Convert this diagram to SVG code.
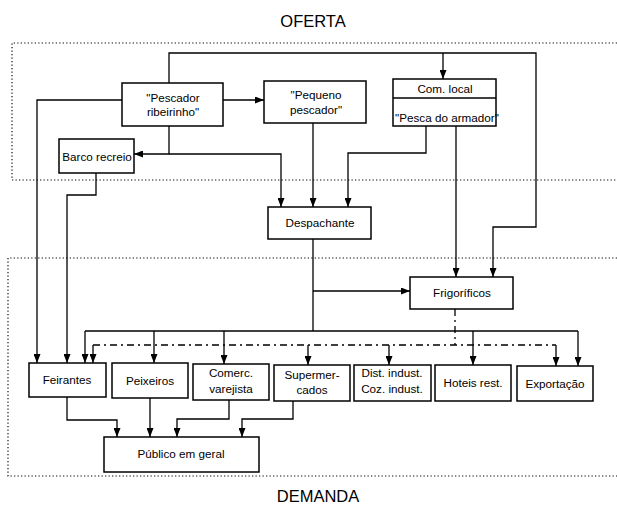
<svg xmlns="http://www.w3.org/2000/svg" width="617" height="505" viewBox="0 0 617 505">
<style>
.box{fill:#fff;stroke:#000;stroke-width:1.5}
.t{font-family:"Liberation Sans",Arial,sans-serif;font-size:11.7px;fill:#000;text-anchor:middle}
.title{font-family:"Liberation Sans",Arial,sans-serif;font-size:16.5px;fill:#000;text-anchor:middle}
.c{fill:none;stroke:#000;stroke-width:1.3}
.a{marker-end:url(#arr)}
.dd{stroke-dasharray:7 4 2 4}
.zone{fill:none;stroke:#111;stroke-width:1.2;stroke-dasharray:1.3 2.2}
</style>
<defs>
<marker id="arr" markerUnits="userSpaceOnUse" markerWidth="9" markerHeight="7" refX="9" refY="3.5" orient="auto">
<path d="M0,0 L9,3.5 L0,7 z" fill="#000"/>
</marker>
</defs>
<g id="zones">
<path class="zone" d="M617,43 H12 V180 H617"/>
<path class="zone" d="M617,258 H8 V476 H617"/>
<text class="title" x="313" y="27">OFERTA</text>
<text class="title" x="318" y="502">DEMANDA</text>
</g>
<g id="connectors">
<path class="c a" d="M169,83 V53 H536 V227 H493 V277"/>
<path class="c a" d="M443,53 V79"/>
<path class="c a" d="M122,100 H37 V363"/>
<path class="c a" d="M223,100 H264"/>
<path class="c a" d="M169,126 V154 H134"/>
<path class="c a" d="M169,154 H281 V207"/>
<path class="c a" d="M313,123 V207"/>
<path class="c a" d="M426,126 V153 H348 V207"/>
<path class="c a" d="M456,126 V277"/>
<path class="c a" d="M96,173 V195 H67 V363"/>
<path class="c" d="M313,239 V331"/>
<path class="c a" d="M313,291 H410"/>
<path class="c" d="M85,331 H578"/>
<path class="c a" d="M85,331 V363"/>
<path class="c a" d="M154,331 V363"/>
<path class="c a" d="M224,331 V364"/>
<path class="c a" d="M473,331 V365"/>
<path class="c a" d="M578,331 V366"/>
<path class="c dd" d="M93,345 H556"/>
<path class="c dd" d="M455,309 V345"/>
<path class="c a" d="M93,345 V363"/>
<path class="c a" d="M308,345 V365"/>
<path class="c a" d="M389,345 V365"/>
<path class="c a" d="M556,345 V366"/>
<path class="c a" d="M67,397 V420 H117 V437"/>
<path class="c a" d="M150,398 V437"/>
<path class="c a" d="M229,400 V419 H177 V437"/>
<path class="c a" d="M293,401 V419 H242 V437"/>
</g>
<g id="pescador-ribeirinho">
<rect class="box" x="122" y="83" width="101" height="43"/>
<text class="t" x="173" y="102">"Pescador</text>
<text class="t" x="173" y="116">ribeirinho"</text>
</g>
<g id="pequeno-pescador">
<rect class="box" x="264" y="81" width="102" height="42"/>
<text class="t" x="316" y="99">"Pequeno</text>
<text class="t" x="316" y="114">pescador"</text>
</g>
<g id="com-local">
<rect class="box" x="393" y="79" width="103" height="47"/>
<line x1="393" y1="98" x2="496" y2="98" stroke="#000" stroke-width="1.5"/>
<text class="t" x="445" y="93">Com. local</text>
<text class="t" x="395" y="122" style="text-anchor:start">"Pesca do armador"</text>
</g>
<g id="barco-recreio">
<rect class="box" x="59" y="139" width="75" height="34"/>
<text class="t" x="97" y="161">Barco recreio</text>
</g>
<g id="despachante">
<rect class="box" x="268" y="207" width="103" height="32"/>
<text class="t" x="320" y="227">Despachante</text>
</g>
<g id="frigorificos">
<rect class="box" x="410" y="277" width="103" height="32"/>
<text class="t" x="462" y="297">Frigoríficos</text>
</g>
<g id="feirantes">
<rect class="box" x="29" y="363" width="77" height="34"/>
<text class="t" x="67" y="384">Feirantes</text>
</g>
<g id="peixeiros">
<rect class="box" x="112" y="363" width="76" height="35"/>
<text class="t" x="150" y="385">Peixeiros</text>
</g>
<g id="comerc-varejista">
<rect class="box" x="193" y="364" width="76" height="36"/>
<text class="t" x="231" y="377">Comerc.</text>
<text class="t" x="231" y="393">varejista</text>
</g>
<g id="supermercados">
<rect class="box" x="274" y="365" width="76" height="36"/>
<text class="t" x="312" y="379">Supermer-</text>
<text class="t" x="312" y="394">cados</text>
</g>
<g id="dist-indust">
<rect class="box" x="354" y="365" width="77" height="36"/>
<text class="t" x="392" y="377">Dist. indust.</text>
<text class="t" x="392" y="393">Coz. indust.</text>
</g>
<g id="hoteis-rest">
<rect class="box" x="435" y="365" width="76" height="36"/>
<text class="t" x="473" y="387">Hoteis rest.</text>
</g>
<g id="exportacao">
<rect class="box" x="517" y="366" width="76" height="35"/>
<text class="t" x="555" y="388">Exportação</text>
</g>
<g id="publico">
<rect class="box" x="104" y="437" width="155" height="35"/>
<text class="t" x="181" y="458">Público em geral</text>
</g>
</svg>
